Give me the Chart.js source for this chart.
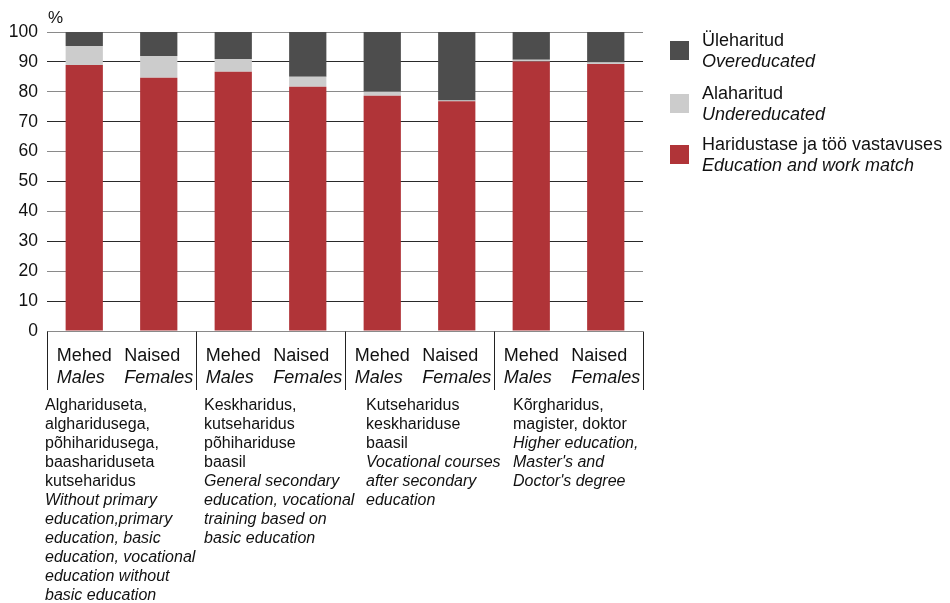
<!DOCTYPE html>
<html>
<head>
<meta charset="utf-8">
<script src="https://cdn.jsdelivr.net/npm/chart.js@4/dist/chart.umd.min.js"></script>
<style>
  html, body { margin: 0; padding: 0; background: #fff; }
  #wrap { width: 950px; height: 603px; }
</style>
</head>
<body>
<div id="wrap"><canvas id="bars" width="950" height="603"></canvas></div>
<script>
  const FONT = '"Liberation Sans", Arial, sans-serif';

  // data
  const sexEt = ['Mehed', 'Naised', 'Mehed', 'Naised', 'Mehed', 'Naised', 'Mehed', 'Naised'];
  const sexEn = ['Males', 'Females', 'Males', 'Females', 'Males', 'Females', 'Males', 'Females'];
  const matchVals = [89.0, 84.7, 86.7, 81.7, 78.7, 76.8, 90.1, 89.3];
  const underVals = [6.3, 7.3, 4.3, 3.3, 1.3, 0.3, 0.6, 0.5];
  const overVals  = [4.7, 8.0, 9.0, 15.0, 20.0, 22.9, 9.3, 10.2];

  const seriesEt = ['Haridustase ja töö vastavuses', 'Alaharitud', 'Üleharitud'];
  const seriesEn = ['Education and work match', 'Undereducated', 'Overeducated'];
  const colors = ['#b03438', '#cccccc', '#4d4d4d'];

  const groupsEt = [
    ['Alghariduseta,', 'algharidusega,', 'põhiharidusega,', 'baashariduseta', 'kutseharidus'],
    ['Keskharidus,', 'kutseharidus', 'põhihariduse', 'baasil'],
    ['Kutseharidus', 'keskhariduse', 'baasil'],
    ['Kõrgharidus,', 'magister, doktor']
  ];
  const groupsEn = [
    ['Without primary', 'education,primary', 'education, basic', 'education, vocational', 'education without', 'basic education'],
    ['General secondary', 'education, vocational', 'training based on', 'basic education'],
    ['Vocational courses', 'after secondary', 'education'],
    ['Higher education,', "Master's and", "Doctor's degree"]
  ];
  const descX = [45, 204, 366, 513];

  const extras = {
    id: 'extras',
    afterDraw(chart) {
      const ctx = chart.ctx;
      const x = chart.scales.x, y = chart.scales.y;
      const y0 = Math.round(y.getPixelForValue(0)) + 0.5;
      ctx.save();
      ctx.fillStyle = '#111';
      ctx.textBaseline = 'middle';

      // unit label
      ctx.font = '17px ' + FONT;
      ctx.textAlign = 'left';
      ctx.fillText('%', 48, 18);

      // group separators below the axis
      ctx.strokeStyle = '#222';
      ctx.lineWidth = 1;
      for (let g = 0; g <= 4; g++) {
        const px = Math.round(x.getPixelForValue(g * 2 - 0.5)) + 0.5;
        ctx.beginPath();
        ctx.moveTo(px, y0);
        ctx.lineTo(px, 390);
        ctx.stroke();
      }

      // sex labels per bar
      for (let i = 0; i < sexEt.length; i++) {
        const cx = x.getPixelForValue(i);
        ctx.font = '18px ' + FONT;
        const w1 = ctx.measureText(sexEt[i]).width;
        ctx.font = 'italic 18px ' + FONT;
        const w2 = ctx.measureText(sexEn[i]).width;
        const left = cx - Math.max(w1, w2) / 2;
        ctx.font = '18px ' + FONT;
        ctx.fillText(sexEt[i], left, 356);
        ctx.font = 'italic 18px ' + FONT;
        ctx.fillText(sexEn[i], left, 378);
      }

      // group descriptions
      for (let g = 0; g < 4; g++) {
        let ly = 406;
        ctx.font = '16px ' + FONT;
        groupsEt[g].forEach(t => { ctx.fillText(t, descX[g], ly); ly += 19; });
        ctx.font = 'italic 16px ' + FONT;
        groupsEn[g].forEach(t => { ctx.fillText(t, descX[g], ly); ly += 19; });
      }

      // legend (top to bottom: over, under, match)
      const legendTops = [41, 94, 145];
      [2, 1, 0].forEach((s, k) => {
        const top = legendTops[k];
        ctx.fillStyle = colors[s];
        ctx.fillRect(670, top, 19, 19);
        ctx.fillStyle = '#111';
        ctx.font = '18px ' + FONT;
        ctx.fillText(seriesEt[s], 702, top);
        ctx.font = 'italic 18px ' + FONT;
        ctx.fillText(seriesEn[s], 702, top + 21);
      });
      ctx.restore();
    }
  };

  new Chart(document.getElementById('bars'), {
    type: 'bar',
    data: {
      labels: sexEt,
      datasets: [
        { label: seriesEt[0], data: matchVals, backgroundColor: colors[0] },
        { label: seriesEt[1], data: underVals, backgroundColor: colors[1] },
        { label: seriesEt[2], data: overVals, backgroundColor: colors[2] }
      ]
    },
    options: {
      responsive: false,
      animation: false,
      layout: { padding: { top: 32, right: 307, bottom: 272, left: 0 } },
      datasets: { bar: { categoryPercentage: 1, barPercentage: 0.5, borderWidth: 0 } },
      plugins: { legend: { display: false }, tooltip: { enabled: false } },
      scales: {
        x: { stacked: true, display: false },
        y: {
          stacked: true,
          min: 0,
          max: 100,
          border: { display: false },
          grid: {
            drawTicks: false,
            color: c => (c.tick && c.tick.value % 20 === 0) ? '#8a8a8a' : '#2a2a2a'
          },
          ticks: { stepSize: 10, padding: 9, color: '#111', font: { family: FONT, size: 17.5 } },
          afterFit(scale) { scale.width = 47; }
        }
      }
    },
    plugins: [extras]
  });
</script>
</body>
</html>
